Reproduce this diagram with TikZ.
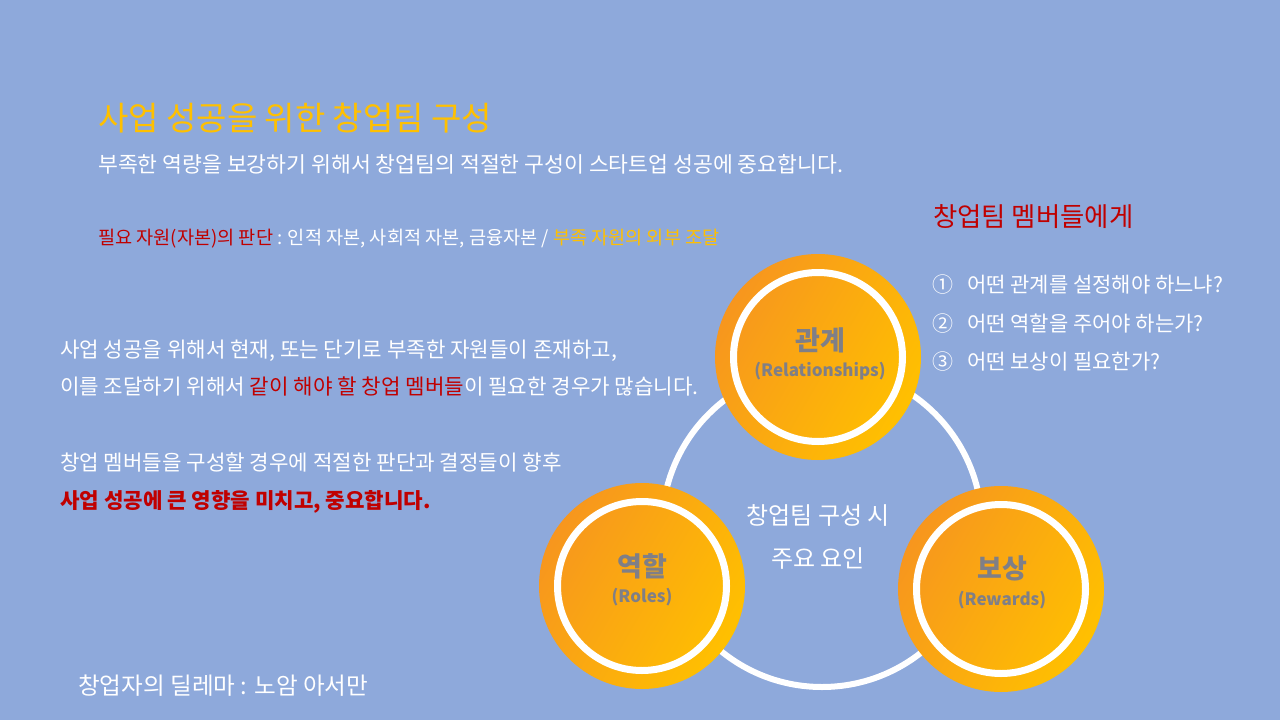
\documentclass[tikz,border=0pt]{standalone}
\usepackage{fontspec}
\setmainfont{Noto Sans CJK KR}
\usetikzlibrary{positioning}
\definecolor{slideBlue}{RGB}{142,169,219}
\definecolor{teamGold}{RGB}{255,192,0}
\definecolor{teamOrange}{RGB}{247,150,30}
\definecolor{teamRed}{RGB}{192,0,0}
\definecolor{labelGray}{RGB}{127,127,135}

\tikzset{
  factor/.style={circle, minimum size=206pt, inner sep=0pt,
    left color=teamOrange, right color=teamGold, shading angle=60,
    path picture={\draw[white, line width=7pt]
      (path picture bounding box.center) circle (84.5pt);}},
  factorname/.style={text=labelGray, font=\fontsize{27}{30}\selectfont\bfseries, inner sep=0pt},
  factorsub/.style={text=labelGray, font=\fontsize{17}{20}\selectfont\bfseries, inner sep=0pt},
  bodytext/.style={anchor=west, text=white, align=left, inner sep=0pt,
    font=\fontsize{21.2}{37.5}\selectfont},
}

\begin{document}
\begin{tikzpicture}[x=1pt, y=-1pt]
  \fill[slideBlue] (0,0) rectangle (1280,720);
  \useasboundingbox (0,0) rectangle (1280,720);

  % heading
  \node[anchor=west, inner sep=0pt, text=teamGold, font=\fontsize{33}{38}\selectfont]
    (title) at (98,118) {사업 성공을 위한 창업팀 구성};
  \node[bodytext, font=\fontsize{21.6}{26}\selectfont] (subtitle) at (98,164)
    {부족한 역량을 보강하기 위해서 창업팀의 적절한 구성이 스타트업 성공에 중요합니다.};
  \node[bodytext, font=\fontsize{18.6}{22}\selectfont] (resource) at (98,239)
    {\textcolor{teamRed}{필요 자원(자본)의 판단} : 인적 자본, 사회적 자본, 금융자본 / \textcolor{teamGold}{부족 자원의 외부 조달}};

  % left paragraphs
  \node[bodytext] (need) at (60,368)
    {사업 성공을 위해서 현재, 또는 단기로 부족한 자원들이 존재하고,\\
     이를 조달하기 위해서 \textcolor{teamRed}{같이 해야 할 창업 멤버들}이 필요한 경우가 많습니다.};
  \node[bodytext] (impact) at (60,483)
    {창업 멤버들을 구성할 경우에 적절한 판단과 결정들이 향후\\
     \textcolor{teamRed}{\bfseries 사업 성공에 큰 영향을 미치고, 중요합니다.}};
  \node[bodytext, font=\fontsize{23.6}{26}\selectfont] (dilemma) at (78,686)
    {창업자의 딜레마 : 노암 아서만};

  % questions
  \node[anchor=west, inner sep=0pt, text=teamRed, font=\fontsize{26.4}{30}\selectfont]
    (members) at (933,217) {창업팀 멤버들에게};
  \node[bodytext, font=\fontsize{21}{24}\selectfont] (q1) at (932,285) {①\hspace{14pt}어떤 관계를 설정해야 하느냐?};
  \node[bodytext, font=\fontsize{21}{24}\selectfont] (q2) at (932,324) {②\hspace{14pt}어떤 역할을 주어야 하는가?};
  \node[bodytext, font=\fontsize{21}{24}\selectfont] (q3) at (932,362) {③\hspace{14pt}어떤 보상이 필요한가?};

  % cycle of factors
  \node[circle, draw=white, line width=6pt, minimum size=320pt, inner sep=0pt]
    (ring) at (822,527) {};
  \node[text=white, align=center, font=\fontsize{24}{43}\selectfont]
    (core) at (818,537) {창업팀 구성 시\\주요 요인};

  \node[factor] (rel) at (818,357) {};
  \node[factorname] (relname) at (820,340) {관계};
  \node[factorsub] (relsub) at (820,371) {(Relationships)};

  \node[factor] (role) at (642,586) {};
  \node[factorname] (rolename) at (642,566) {역할};
  \node[factorsub] (rolesub) at (642,597) {(Roles)};

  \node[factor] (reward) at (1001,589) {};
  \node[factorname] (rewardname) at (1002,568) {보상};
  \node[factorsub] (rewardsub) at (1002,600) {(Rewards)};
\end{tikzpicture}
\end{document}
